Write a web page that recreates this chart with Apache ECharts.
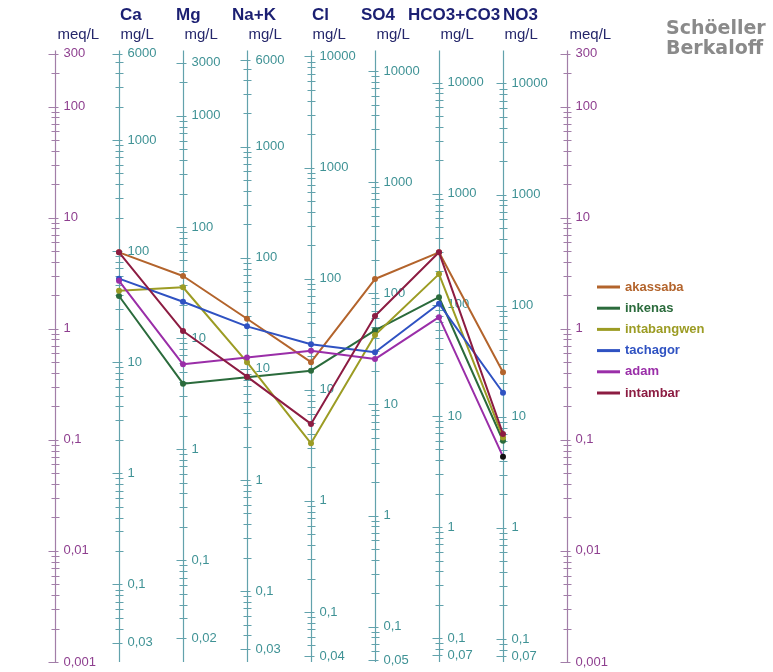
<!DOCTYPE html>
<html>
<head>
<meta charset="utf-8">
<script src="https://cdn.jsdelivr.net/npm/echarts@6/dist/echarts.min.js"></script>
<style>html,body{margin:0;padding:0;background:#fff}#c{width:773px;height:672px}</style>
</head>
<body>
<div id="c"></div>
<script>
// ---- data ----
const categories = ['Ca', 'Mg', 'Na+K', 'Cl', 'SO4', 'HCO3+CO3', 'NO3'];
const eqWeights = [20.04, 12.15, 23.0, 35.45, 48.03, 61.02, 62.0];
const meqLabels = [300, 100, 10, 1, 0.1, 0.01, 0.001];
const mgLabelsCa = [6000, 1000, 100, 10, 1, 0.1, 0.03];
const mgLabelsMg = [3000, 1000, 100, 10, 1, 0.1, 0.02];
const mgLabelsNaK = [6000, 1000, 100, 10, 1, 0.1, 0.03];
const mgLabelsCl = [10000, 1000, 100, 10, 1, 0.1, 0.04];
const mgLabelsSO4 = [10000, 1000, 100, 10, 1, 0.1, 0.05];
const mgLabelsHCO3 = [10000, 1000, 100, 10, 1, 0.1, 0.07];
const mgLabelsNO3 = [10000, 1000, 100, 10, 1, 0.1, 0.07];
const mgLabels = [mgLabelsCa, mgLabelsMg, mgLabelsNaK, mgLabelsCl, mgLabelsSO4, mgLabelsHCO3, mgLabelsNO3];
const meqRange = [0.001, 300];

// sample values in meq/L : Ca, Mg, Na+K, Cl, SO4, HCO3+CO3, NO3
const sampleNames = ['akassaba', 'inkenas', 'intabangwen', 'tachagor', 'adam', 'intambar'];
const akassaba    = [4.87, 2.98, 1.23, 0.50, 2.80, 4.87, 0.405];
const inkenas     = [1.97, 0.32, 0.365, 0.419, 0.967, 1.92, 0.098];
const intabangwen = [2.20, 2.36, 0.50, 0.093, 0.877, 3.10, 0.105];
const tachagor    = [2.82, 1.75, 1.05, 0.724, 0.613, 1.68, 0.265];
const adam        = [2.70, 0.478, 0.55, 0.634, 0.533, 1.27, 0.0705];
const intambar    = [4.87, 0.953, 0.37, 0.139, 1.30, 4.87, 0.113];
const sampleValues = [akassaba, inkenas, intabangwen, tachagor, adam, intambar];
const sampleColors = ['#b3642c', '#2b6b3c', '#9c9c24', '#2f52c2', '#9a2ea8', '#8c1c42'];

// ---- styles ----
const meqAxisColor = '#a27ea8';
const ionAxisColor = '#62a2ac';
const meqLabelColor = '#8e3f8f';
const ionLabelColor = '#3f9295';
const unitColor = '#25276b';
const headColor = '#1b1f72';

function fmt(v) { return String(v).replace('.', ','); }

// build tick list (axis 0 = left meq, 1..7 = ions, 8 = right meq)
const ticks = [];
function addAxisTicks(x, eqw, labels, isMeq) {
  const lo = meqRange[0] * eqw, hi = meqRange[1] * eqw;
  for (let n = -4; n <= 6; n++) {
    for (let k = 1; k <= 9; k++) {
      const v = parseFloat((k * Math.pow(10, n)).toPrecision(6));
      if (v < lo * 0.9999 || v > hi * 1.0001) continue;
      const lab = labels.find(l => Math.abs(l - v) / v < 1e-6);
      ticks.push({ x: x, meq: v / eqw, major: lab !== undefined, label: lab !== undefined ? fmt(lab) : '', isMeq: isMeq });
    }
  }
}
addAxisTicks(0, 1, meqLabels, true);
for (let i = 0; i < categories.length; i++) addAxisTicks(i + 1, eqWeights[i], mgLabels[i], false);
addAxisTicks(8, 1, meqLabels, true);

const axisLines = [];
for (let x = 0; x <= 8; x++) axisLines.push([x, meqRange[0], meqRange[1]]);
const unitTexts = ['meq/L'].concat(categories.map(() => 'mg/L')).concat(['meq/L']);

const chart = echarts.init(document.getElementById('c'));

const lineSeries = sampleNames.map((name, si) => ({
  name: name,
  type: 'line',
  z: 5,
  data: sampleValues[si].map((v, i) => {
    const item = { value: [i + 1, v] };
    if (name === 'adam' && i === 6) item.itemStyle = { color: '#111' };
    return item;
  }),
  color: sampleColors[si],
  symbol: 'circle',
  symbolSize: 6,
  lineStyle: { width: 2, color: sampleColors[si] },
  itemStyle: { color: sampleColors[si] },
  animation: false
}));

const headFont = 'bold 17px "Liberation Sans", Arial';
const option = {
  animation: false,
  grid: { left: 55, right: 206, top: 53.5, bottom: 10 },
  xAxis: { type: 'value', min: 0, max: 8, show: false },
  yAxis: { type: 'log', logBase: 10, min: meqRange[0], max: meqRange[1], show: false },
  legend: {
    orient: 'vertical',
    left: 592,
    top: 275,
    icon: 'rect',
    itemWidth: 23,
    itemHeight: 3,
    itemGap: 7.2,
    textStyle: { fontSize: 13, fontWeight: 'bold', lineHeight: 14, fontFamily: 'Liberation Sans, Arial, sans-serif' },
    data: sampleNames.map((n, i) => ({ name: n, textStyle: { color: sampleColors[i] } }))
  },
  graphic: [
    { type: 'text', left: 120, top: 7, style: { text: 'Ca', font: headFont, fill: headColor } },
    { type: 'text', left: 176, top: 7, style: { text: 'Mg', font: headFont, fill: headColor } },
    { type: 'text', left: 232, top: 7, style: { text: 'Na+K', font: headFont, fill: headColor } },
    { type: 'text', left: 312, top: 7, style: { text: 'Cl', font: headFont, fill: headColor } },
    { type: 'text', left: 361, top: 7, style: { text: 'SO4', font: headFont, fill: headColor } },
    { type: 'text', left: 408, top: 7, style: { text: 'HCO3+CO3', font: headFont, fill: headColor } },
    { type: 'text', left: 503, top: 7, style: { text: 'NO3', font: headFont, fill: headColor } },
    { type: 'text', left: 666, top: 20, style: { text: 'Schöeller', font: 'bold 19px "DejaVu Sans"', fill: '#8a8a8a' } },
    { type: 'text', left: 666, top: 40, style: { text: 'Berkaloff', font: 'bold 19px "DejaVu Sans"', fill: '#8a8a8a' } }
  ],
  series: [
    {
      type: 'custom',
      name: 'axes',
      silent: true,
      z: 1,
      encode: { x: 0, y: [1, 2] },
      data: axisLines,
      renderItem: function (params, api) {
        const x = api.value(0);
        const p1 = api.coord([x, api.value(1)]);
        const p2 = api.coord([x, api.value(2)]);
        const isMeq = (x === 0 || x === 8);
        const px = Math.round(p1[0]) + 0.5;
        return {
          type: 'group',
          children: [
            { type: 'line', shape: { x1: px, y1: p1[1], x2: px, y2: p2[1] - 3 },
              style: { stroke: isMeq ? meqAxisColor : ionAxisColor, lineWidth: 1.2 } },
            { type: 'text', style: { text: unitTexts[params.dataIndex], x: px + (isMeq ? 2 : 1), y: p2[1] - 18.5,
              verticalAlign: 'middle', align: 'left', fill: unitColor, font: '15px "Liberation Sans", Arial' } }
          ]
        };
      }
    },
    {
      type: 'custom',
      name: 'ticks',
      silent: true,
      z: 2,
      data: ticks.map(t => [t.x, t.meq]),
      renderItem: function (params, api) {
        const t = ticks[params.dataIndex];
        const p = api.coord([api.value(0), api.value(1)]);
        const px = Math.round(p[0]) + 0.5;
        const py = Math.round(p[1]) + 0.5;
        const col = t.isMeq ? meqAxisColor : ionAxisColor;
        const ch = [{ type: 'line', shape: { x1: px - (t.major ? 7 : 4), y1: py, x2: px + (t.major ? 3 : 4), y2: py },
          style: { stroke: col, lineWidth: 1 } }];
        if (t.label) {
          ch.push({ type: 'text', style: { text: t.label, x: px + 8, y: p[1], verticalAlign: 'middle', align: 'left',
            fill: t.isMeq ? meqLabelColor : ionLabelColor, font: '13px "Liberation Sans", Arial' } });
        }
        return { type: 'group', children: ch };
      }
    }
  ].concat(lineSeries)
};
chart.setOption(option);
</script>
</body>
</html>
